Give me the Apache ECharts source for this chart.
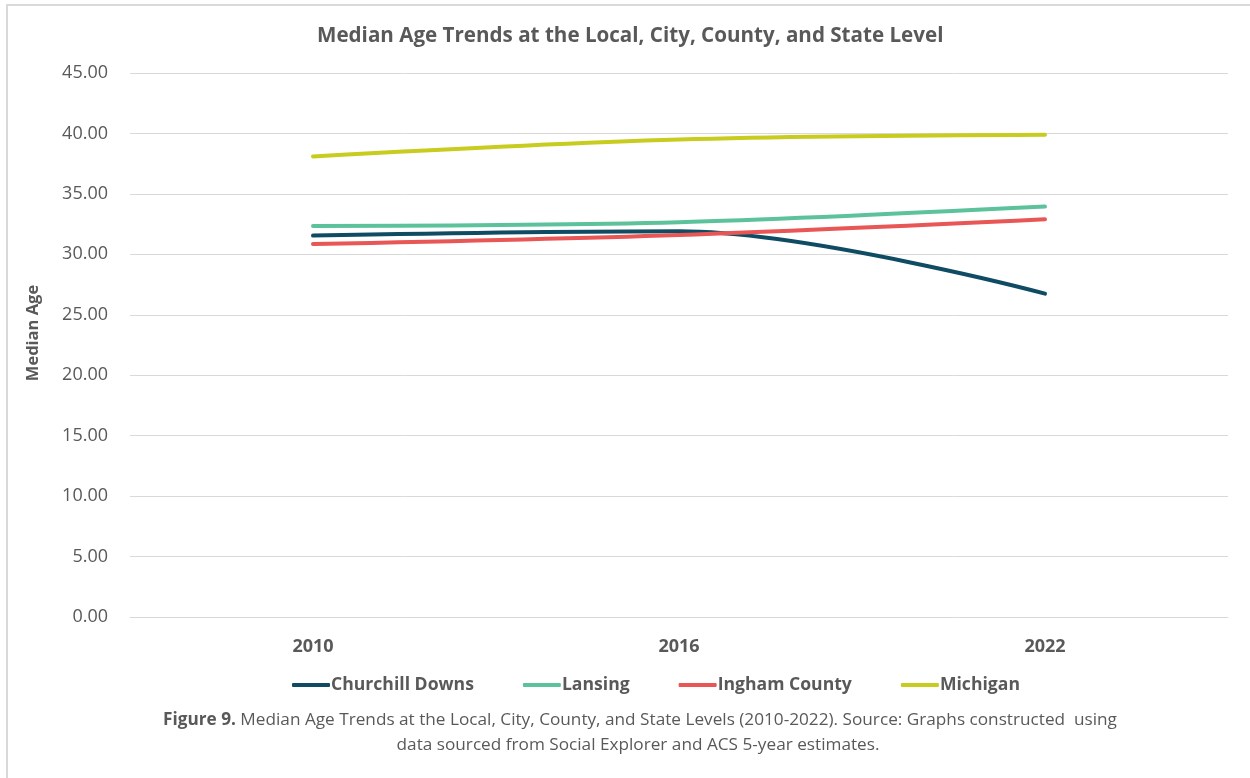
<!DOCTYPE html>
<html>
<head>
<meta charset="utf-8">
<script src="https://cdn.jsdelivr.net/npm/echarts@6/dist/echarts.min.js"></script>
<style>
  html, body { margin: 0; padding: 0; background: #ffffff; }
  #chart { width: 1250px; height: 778px; }
</style>
</head>
<body>
<div id="chart"></div>
<script>
// Median age by geography, ACS 5-year estimates
const years = ['2010', '2016', '2022'];
const churchillDowns = [31.55, 31.9, 26.75];
const lansing = [32.35, 32.65, 33.95];
const inghamCounty = [30.85, 31.6, 32.9];
const michigan = [38.1, 39.5, 39.9];
const yTicks = { min: 0, max: 45, interval: 5 };

const FONT = '"Open Sans", Lato, sans-serif';
const GREY = '#595959';

function lineSeries(name, data, color) {
  return {
    name: name,
    type: 'line',
    data: data,
    smooth: 0.35,
    symbol: 'none',
    lineStyle: { width: 4, color: color, cap: 'round' },
    itemStyle: { color: color }
  };
}

const chart = echarts.init(document.getElementById('chart'), null, { renderer: 'canvas' });
chart.setOption({
  animation: false,
  backgroundColor: '#ffffff',
  title: {
    text: 'Median Age Trends at the Local, City, County, and State Level',
    left: 312,
    top: 21,
    textStyle: { fontFamily: FONT, fontSize: 20.6, fontWeight: 'bold', color: GREY }
  },
  grid: { left: 130, right: 22, top: 73, bottom: 161 },
  legend: {
    bottom: 79,
    left: 287,
    icon: 'roundRect',
    itemWidth: 38,
    itemHeight: 4,
    itemGap: 49,
    textStyle: { fontFamily: FONT, fontSize: 17.6, fontWeight: 'bold', color: GREY, padding: [0, 0, 0, -4] },
    data: ['Churchill Downs', 'Lansing', 'Ingham County', 'Michigan']
  },
  xAxis: {
    type: 'category',
    data: years,
    boundaryGap: true,
    axisLine: { show: true, lineStyle: { color: '#d9d9d9', width: 1 } },
    axisTick: { show: false },
    axisLabel: { fontFamily: FONT, fontSize: 18, fontWeight: 'bold', color: GREY, margin: 21 }
  },
  yAxis: {
    type: 'value',
    min: yTicks.min,
    max: yTicks.max,
    interval: yTicks.interval,
    axisLine: { show: false },
    axisTick: { show: false },
    axisLabel: {
      fontFamily: FONT, fontSize: 18, color: GREY, margin: 22,
      formatter: v => v.toFixed(2)
    },
    splitLine: { lineStyle: { color: '#d9d9d9', width: 1 } }
  },
  series: [
    lineSeries('Churchill Downs', churchillDowns, '#0f4c64'),
    lineSeries('Lansing', lansing, '#5cc29c'),
    lineSeries('Ingham County', inghamCounty, '#e85656'),
    lineSeries('Michigan', michigan, '#c7cc1f')
  ],
  graphic: [
    {
      type: 'rect',
      shape: { x: 7, y: 5, width: 1260, height: 800 },
      style: { fill: 'none', stroke: '#d9d9d9', lineWidth: 2 },
      silent: true
    },
    {
      // y-axis title
      type: 'text',
      x: 33,
      y: 333,
      rotation: Math.PI / 2,
      style: {
        text: 'Median Age',
        align: 'center',
        verticalAlign: 'middle',
        fontFamily: FONT,
        fontSize: 16.5,
        fontWeight: 'bold',
        fill: GREY
      }
    },
    {
      type: 'text',
      x: 640,
      y: 720,
      style: {
        text: '{b|Figure 9.} Median Age Trends at the Local, City, County, and State Levels (2010-2022). Source: Graphs constructed  using',
        align: 'center',
        verticalAlign: 'middle',
        fontFamily: FONT,
        fontSize: 17.2,
        fill: GREY,
        rich: {
          b: { fontFamily: FONT, fontSize: 17.2, fontWeight: 'bold', fill: GREY }
        }
      }
    },
    {
      type: 'text',
      x: 638,
      y: 745,
      style: {
        text: 'data sourced from Social Explorer and ACS 5-year estimates.',
        align: 'center',
        verticalAlign: 'middle',
        fontFamily: FONT,
        fontSize: 17.2,
        fill: GREY
      }
    }
  ]
});
</script>
</body>
</html>
